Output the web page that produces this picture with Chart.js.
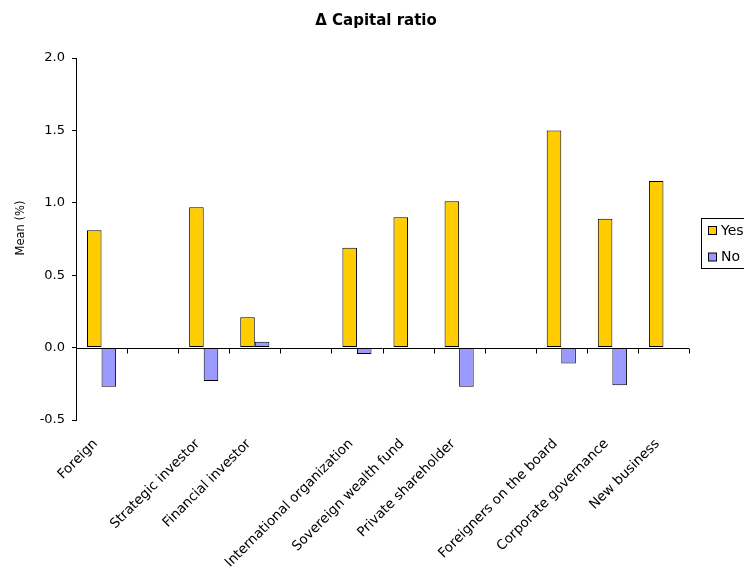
<!DOCTYPE html>
<html>
<head>
<meta charset="utf-8">
<script src="https://cdn.jsdelivr.net/npm/chart.js@4/dist/chart.umd.min.js"></script>
<style>
  html, body { margin: 0; padding: 0; background: #ffffff; overflow: hidden; }
  #wrap { position: relative; width: 744px; height: 568px; }
</style>
</head>
<body>
<div id="wrap"><canvas id="c" width="744" height="568"></canvas></div>
<script>
// ---- data ----
const categories = [
  "Foreign", "", "Strategic investor", "Financial investor", "",
  "International organization", "Sovereign wealth fund", "Private shareholder", "",
  "Foreigners on the board", "Corporate governance", "New business"
];
const yesValues = [0.81, null, 0.97, 0.21, null, 0.69, 0.90, 1.01, null, 1.50, 0.89, 1.15];
const noValues  = [-0.27, null, -0.23, 0.04, null, -0.045, null, -0.27, null, -0.11, -0.26, -0.01];
const seriesNames = ["Yes", "No"];
const yTicks = [-0.5, 0.0, 0.5, 1.0, 1.5, 2.0];
const chartTitle = "\u0394 Capital ratio";
const yTitle = "Mean (%)";

const FONT = "'DejaVu Sans', sans-serif";

// chart title and y-axis title
const titlePlugin = {
  id: 'titlePlugin',
  afterDraw(chart) {
    const { ctx } = chart;
    ctx.save();
    ctx.font = "bold 15px " + FONT;
    ctx.fillStyle = '#000000';
    ctx.textAlign = 'center';
    ctx.textBaseline = 'middle';
    ctx.fillText(chartTitle, 376, 21);
    ctx.translate(21, 228);
    ctx.rotate(-Math.PI / 2);
    ctx.font = "11.5px " + FONT;
    ctx.fillText(yTitle, 0, 0);
    ctx.restore();
  }
};

// zero line + boundary ticks
const zeroLine = {
  id: 'zeroLine',
  afterDatasetsDraw(chart) {
    const { ctx, scales: { x, y } } = chart;
    const y0 = Math.round(y.getPixelForValue(0)) + 0.5;
    const n = categories.length;
    const step = (x.right - x.left) / n;
    ctx.save();
    ctx.strokeStyle = '#000000';
    ctx.lineWidth = 1;
    ctx.beginPath();
    ctx.moveTo(x.left, y0);
    ctx.lineTo(x.right, y0);
    for (let i = 1; i <= n; i++) {
      const px = Math.round(x.left + i * step) + 0.5;
      ctx.moveTo(px, y0);
      ctx.lineTo(px, y0 + 5);
    }
    ctx.stroke();
    ctx.restore();
  }
};

// boxed legend on the right (partially cut off as in the reference)
const boxLegend = {
  id: 'boxLegend',
  afterDraw(chart) {
    const { ctx } = chart;
    const left = 701.5, top = 218.5, w = 80, h = 50;
    ctx.save();
    ctx.fillStyle = '#ffffff';
    ctx.fillRect(left, top, w, h);
    ctx.strokeStyle = '#000000';
    ctx.lineWidth = 1;
    ctx.strokeRect(left, top, w, h);
    ctx.font = "14px " + FONT;
    ctx.textBaseline = 'middle';
    ctx.textAlign = 'left';
    chart.data.datasets.forEach((ds, i) => {
      const sy = 226.5 + i * 26.5;
      ctx.fillStyle = ds.backgroundColor;
      ctx.fillRect(708.5, sy, 8, 8);
      ctx.strokeRect(708.5, sy, 8, 8);
      ctx.fillStyle = '#000000';
      ctx.fillText(ds.label, 721, sy + 4.5);
    });
    ctx.restore();
  }
};

new Chart(document.getElementById('c'), {
  type: 'bar',
  data: {
    labels: categories,
    datasets: [
      { label: seriesNames[0], data: yesValues, backgroundColor: '#FFCC00', borderColor: '#000000', borderWidth: 1, borderSkipped: false },
      { label: seriesNames[1], data: noValues,  backgroundColor: '#9999FF', borderColor: '#000000', borderWidth: 1, borderSkipped: false }
    ]
  },
  options: {
    responsive: false,
    animation: false,
    devicePixelRatio: 1,
    layout: { padding: { left: 0, right: 55, top: 58, bottom: 0 } },
    datasets: { bar: { categoryPercentage: 0.57, barPercentage: 1.0 } },
    plugins: {
      legend: { display: false },
      tooltip: { enabled: false },
      title: { display: false }
    },
    scales: {
      x: {
        grid: { display: false },
        border: { display: false },
        ticks: {
          color: '#000000',
          font: { family: FONT, size: 13.5 },
          autoSkip: false,
          minRotation: 45,
          maxRotation: 45,
          padding: 8,
          labelOffset: -6
        },
        afterFit(scale) { scale.height = 148; }
      },
      y: {
        min: -0.5,
        max: 2.0,
        afterBuildTicks(scale) { scale.ticks = yTicks.map(v => ({ value: v })); },
        grid: { drawOnChartArea: false, drawTicks: true, tickLength: 4, color: '#000000' },
        border: { display: true, color: '#000000', width: 1 },
        ticks: {
          color: '#000000',
          font: { family: FONT, size: 13 },
          padding: 7,
          callback: v => Number(v).toFixed(1)
        },
        title: { display: false },
        afterFit(scale) { scale.width = 76; }
      }
    }
  },
  plugins: [zeroLine, boxLegend, titlePlugin]
});
</script>
</body>
</html>
